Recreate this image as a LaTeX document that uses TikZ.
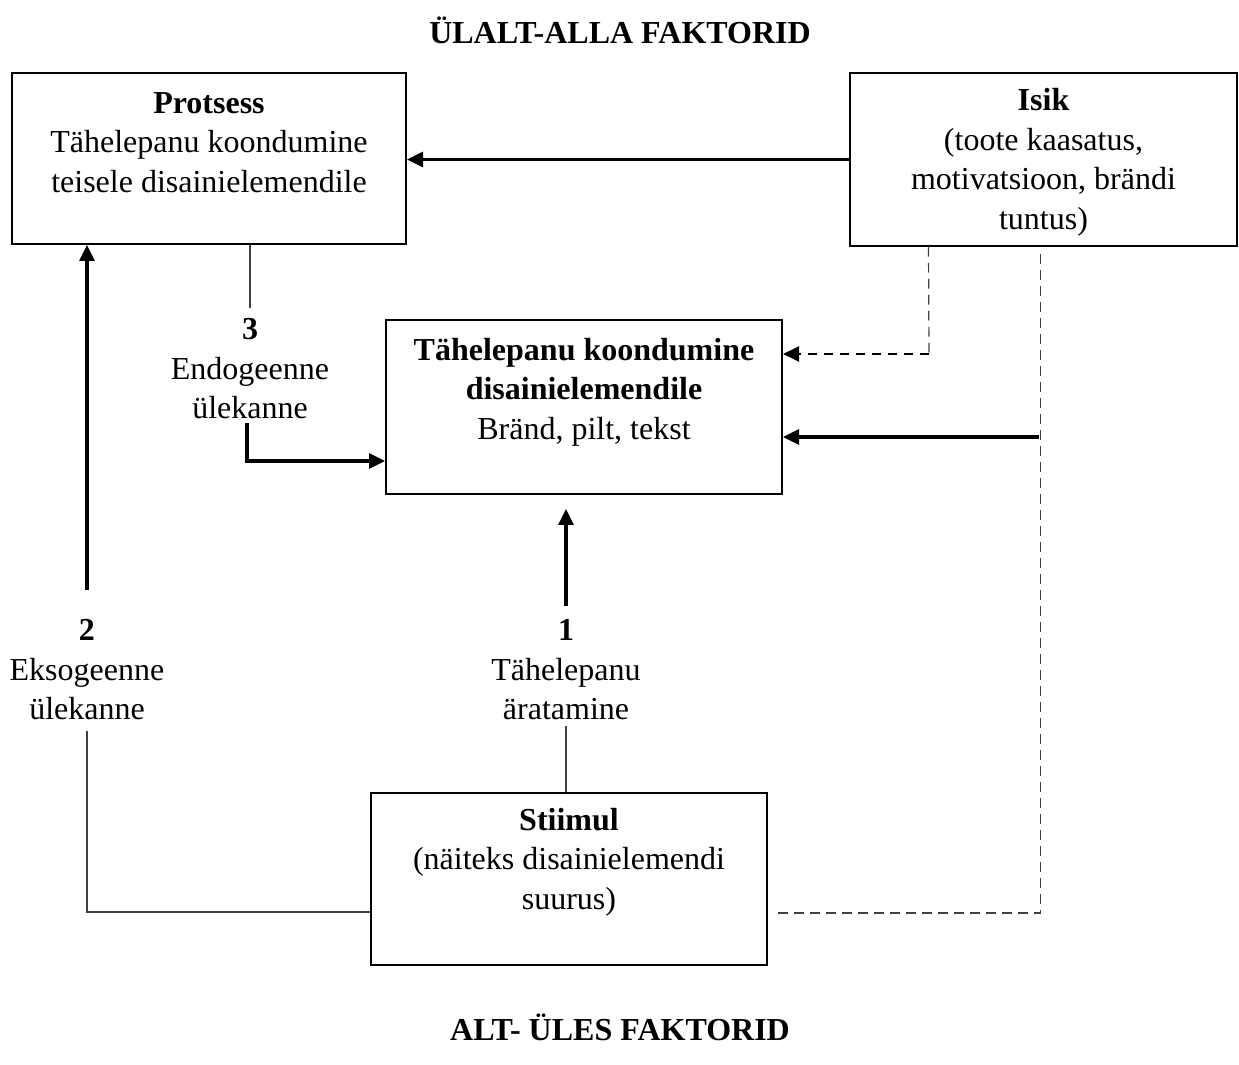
\documentclass[tikz,border=0pt]{standalone}
\usepackage{fontspec}
\setmainfont{Liberation Serif}
\usetikzlibrary{arrows.meta,calc}

\begin{document}
\begin{tikzpicture}[
	x=0.375pt, y=-0.375pt, >={Triangle[length=6pt,width=5.6pt]},
	font=\fontsize{12}{14.8}\selectfont,
	box/.style={draw, line width=0.75pt, inner sep=0pt},
	txt/.style={align=center, inner sep=0pt},
	freccia/.style={->, line width=1.2pt},
	conn/.style={line width=0.45pt, black!75},
	dconn/.style={conn, dash pattern=on 3.6pt off 2.4pt}]
	\def\px{0.375pt}
	\useasboundingbox (0,0) rectangle (1239,1065);
	
	%% titoli
	\node[txt, font=\fontsize{12}{14.8}\selectfont\bfseries] (ttop) at (620,30) {ÜLALT-ALLA FAKTORID};
	\node[txt, font=\fontsize{12}{14.8}\selectfont\bfseries] (tbot) at (620,1027) {ALT- ÜLES FAKTORID};
	
	%% riquadri
	\node[box, minimum width={394*\px}, minimum height={171*\px}] (proc) at (209,158.5) {};
	\node[box, minimum width={387*\px}, minimum height={173*\px}] (isik) at (1043.5,159.5) {};
	\node[box, minimum width={396*\px}, minimum height={174*\px}] (mid) at (584,407) {};
	\node[box, minimum width={396*\px}, minimum height={172*\px}] (stim) at (569,879) {};
	
	\node[txt] (proctxt) at ($(proc)+(0,-16)$) {\textbf{Protsess}\\Tähelepanu koondumine\\teisele disainielemendile};
	\node[txt] (isiktxt) at ($(isik)+(0,3)$) {\textbf{Isik}\\(toote kaasatus,\\motivatsioon, brändi\\tuntus)};
	\node[txt] (midtxt) at ($(mid)+(0,-15)$) {\textbf{Tähelepanu koondumine}\\\textbf{disainielemendile}\\Bränd, pilt, tekst};
	\node[txt] (stimtxt) at ($(stim)+(0,-17)$) {\textbf{Stiimul}\\(näiteks disainielemendi\\suurus)};
	
	%% etichette dei passaggi
	\node[txt] (lab3) at (250,369) {\textbf{3}\\Endogeenne\\ülekanne};
	\node[txt] (lab2) at (87,670) {\textbf{2}\\Eksogeenne\\ülekanne};
	\node[txt] (lab1) at (566,670) {\textbf{1}\\Tähelepanu\\äratamine};
	
	%% frecce dall'alto
	\draw[freccia] (isik.west) -- (isik.west -| proc.east);
	\draw[conn] (proc.south -| lab3.north) -- ($(lab3.north)+(0,-10)$);
	\draw[freccia] ($(lab3.south)+(-3,3)$) |- ($(mid.west)+(0,54)$);
	\draw[freccia] ($(lab2.north)+(0,-29)$) -- (lab2.north |- proc.south);
	\draw[conn] ($(lab2.south)+(0,10)$) |- ($(stim.west)+(0,33)$);
	\draw[freccia] ($(lab1.north)+(0,-13)$) -- ($(lab1.north |- mid.south)+(0,14)$);
	\draw[conn] ($(lab1.south)+(0,5)$) -- (lab1.south |- stim.north);
	
	%% influsso della persona
	\coordinate (dc1) at ($(isik.south -| mid.east)+(146,107)$);
	\draw[dconn] ($(isik.south)+(-115,0)$) -- (dc1);
	\draw[->, line width=0.8pt, dash pattern=on 3.4pt off 2.6pt] (dc1) -- (dc1 -| mid.east);
	\coordinate (dc2) at ($(isik.south |- stim.east)+(-3,34)$);
	\draw[dconn] ($(isik.south)+(-3,7)$) -- (dc2) -- ($(stim.east)+(8,34)$);
	\draw[freccia] ($(isik.south |- mid.east)+(-5,30)$) -- ($(mid.east)+(0,30)$);
\end{tikzpicture}
\end{document}
